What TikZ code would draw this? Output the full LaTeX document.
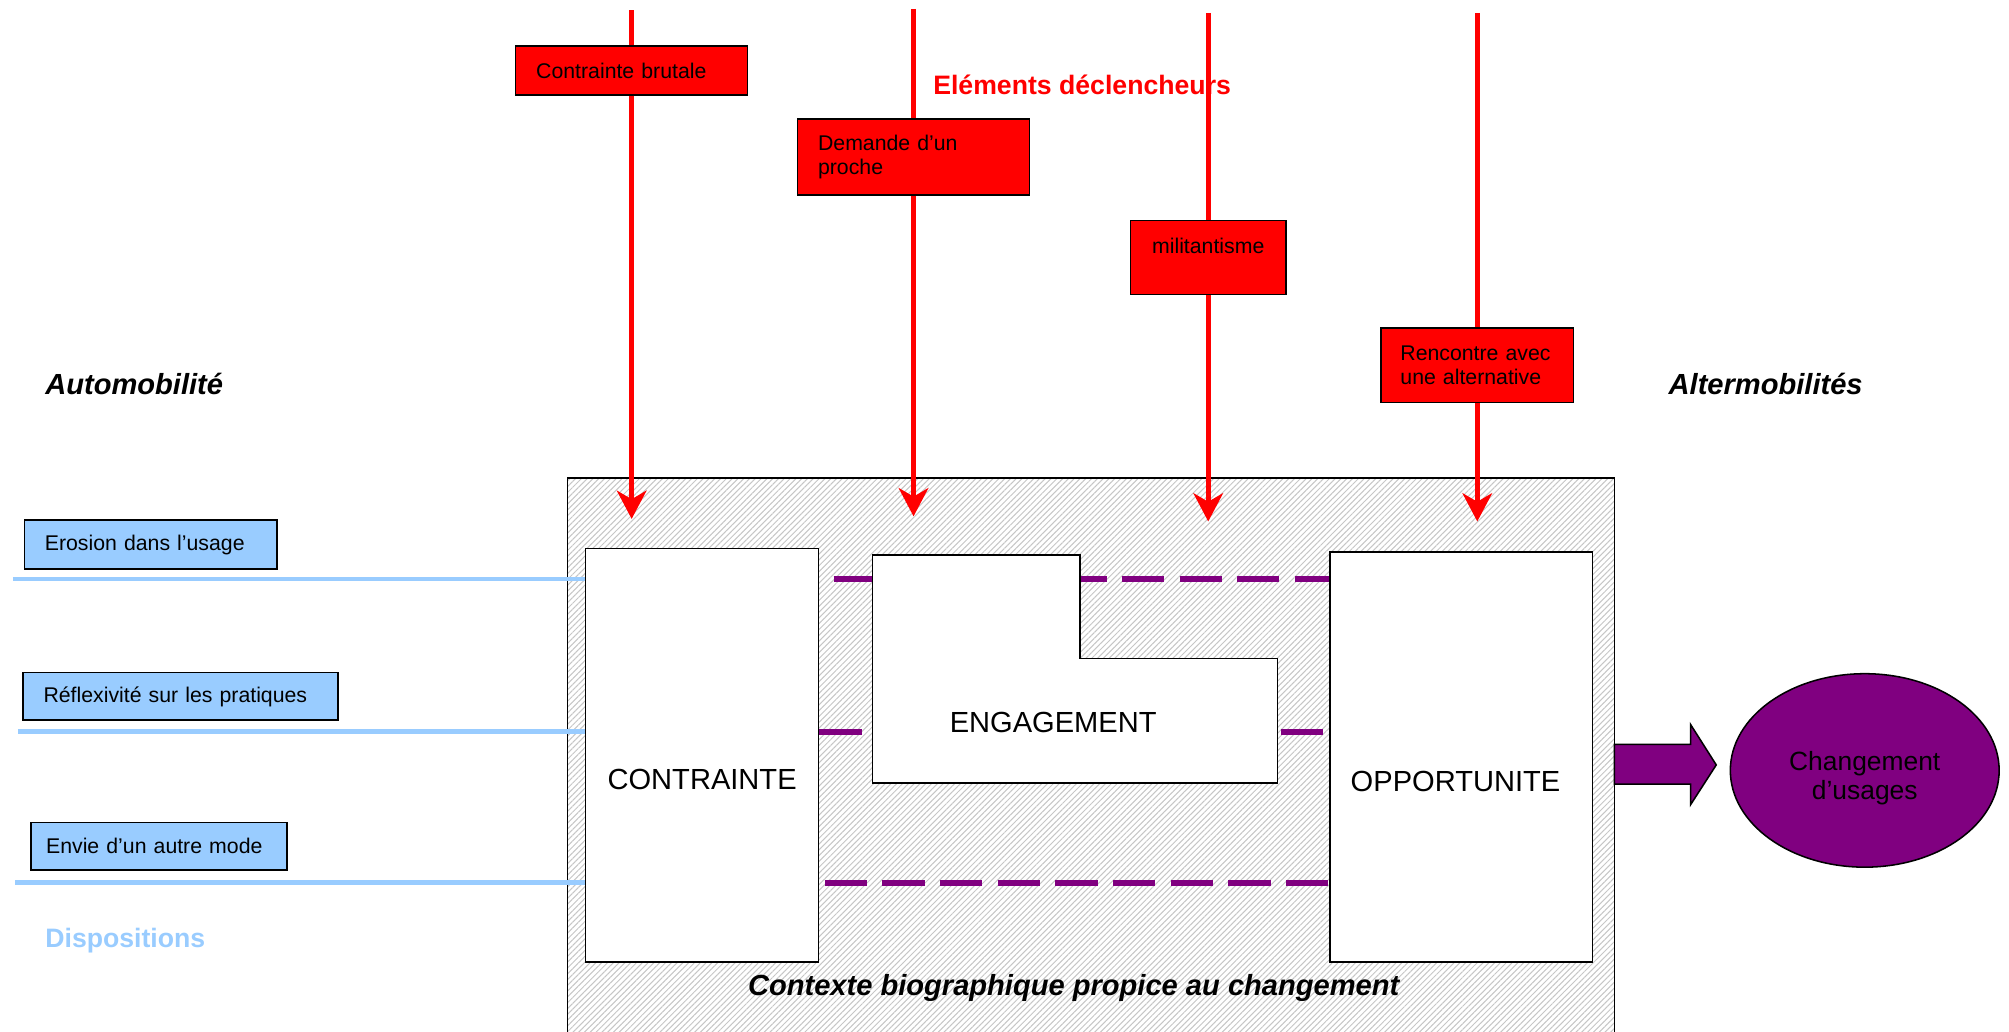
\documentclass[tikz,border=0pt]{standalone}
\usepackage{fontspec}
\setmainfont{Liberation Sans}
\usetikzlibrary{positioning}
\usetikzlibrary{shapes.geometric}
\usetikzlibrary{arrows.meta}
\usetikzlibrary{patterns.meta}

\definecolor{trigred}{HTML}{FF0000}
\definecolor{dispblue}{HTML}{99CCFF}
\definecolor{changepurple}{HTML}{800080}
\definecolor{hatchgray}{HTML}{C6C6C6}

\newcommand{\boxtextsize}{\fontsize{8.3}{9.5}\selectfont}
\newcommand{\blocktextsize}{\fontsize{11.35}{13.6}\selectfont}
\newcommand{\headtextsize}{\fontsize{10.4}{12.5}\selectfont}
\newcommand{\ovaltextsize}{\fontsize{10.3}{11.5}\selectfont}

\begin{document}
\begin{tikzpicture}[x=0.5pt, y=-0.5pt,
            redsquarednode/.style={rectangle, draw=black, line width=0.6pt, fill=trigred, font=\boxtextsize, align=left, inner xsep=8pt, inner ysep=0pt},
            bluesquarednode/.style={rectangle, draw=black, line width=0.6pt, fill=dispblue, font=\boxtextsize, align=left, inner xsep=8pt, inner ysep=0pt},
            whitesquarednode/.style={rectangle, draw=black, line width=0.6pt, fill=white, inner sep=0pt},
            hatchednode/.style={rectangle, draw=black, line width=0.6pt, inner sep=0pt, pattern={Lines[angle=45, distance=1.6pt, line width=0.4pt]}, pattern color=hatchgray},
            blocklabel/.style={font=\blocktextsize, inner sep=0pt},
            sidelabel/.style={font=\blocktextsize\bfseries\itshape, anchor=west, inner sep=0pt},
            trigline/.style={draw=trigred, line width=2pt},
            trigarrow/.style={trigline, -{Stealth[length=11pt, width=11.5pt, inset=3.3pt]}},
            displine/.style={draw=dispblue, line width=1.8pt},
            link/.style={draw=changepurple, line width=2.3pt, dash pattern=on 16.5pt off 6pt},
            ]

            \useasboundingbox (0,0) rectangle (1568,804.7);

            % contexte (runs past the bottom edge)
            \node[hatchednode, minimum width=408.5pt, minimum height=219.5pt] (ctx) at (851.5,592.5) {};

            \coordinate (d1) at (10,452);
            \coordinate (d2) at (14,571);
            \coordinate (d3) at (12,689);

            \node[whitesquarednode, minimum width=91pt, minimum height=161.5pt] (ct) at (548,589.5) {};
            \node[whitesquarednode, minimum width=102.5pt, minimum height=160pt] (op) at (1140.5,591) {};

            \draw[link, dash phase=17pt] (d1 -| ct.east) -- (d1 -| op.west);
            \draw[link] (d2 -| ct.east) -- (d2 -| op.west);
            \draw[link, dash phase=20.5pt] (d3 -| ct.east) -- (d3 -| op.west);

            \draw[line width=0.6pt, fill=white] (681,433) -- (843,433) -- (843,514) -- (997,514) -- (997,611) -- (681,611) -- cycle;
            \node[blocklabel] (eng) at (822,564) {ENGAGEMENT};
            \node[blocklabel] (ctlabel) at ([yshift=-9.25pt]ct.center) {CONTRAINTE};
            \node[blocklabel] (oplabel) at ([xshift=-2.25pt, yshift=-9.5pt]op.center) {OPPORTUNITE};

            \node[font=\blocktextsize\bfseries\itshape, inner sep=0pt] (bio) at (838,771) {Contexte biographique propice au changement};

            % dispositions
            \node[bluesquarednode, text width=82.5pt, minimum height=19pt] (er) at (117.5,425) {Erosion dans l’usage};
            \node[bluesquarednode, text width=107pt, minimum height=18.5pt] (rf) at (141,543.5) {Réflexivité sur les pratiques};
            \node[bluesquarednode, inner xsep=6pt, text width=88pt, minimum height=18.5pt] (ev) at (124,660.5) {Envie d’un autre mode};
            \node[font=\headtextsize\bfseries, text=dispblue, anchor=west, inner sep=0pt] (disp) at (35,734) {Dispositions};

            \draw[displine] (d1) -- (d1 -| ct.west);
            \draw[displine] (d2) -- (d2 -| ct.west);
            \draw[displine] (d3) -- (d3 -| ct.west);

            % elements declencheurs
            \node[font=\headtextsize\bfseries, text=trigred, anchor=west, inner sep=0pt] (elem) at (728,66) {Eléments déclencheurs};

            \node[redsquarednode, text width=74.5pt, minimum height=19pt] (cb) at (493,55) {Contrainte brutale};
            \node[redsquarednode, text width=74.5pt, minimum height=29.5pt] (dp) at (713,122.5) {Demande d’un\\proche};
            \node[redsquarednode, align=center, inner xsep=5.25pt, text width=50pt, minimum height=29pt] (mi) at (943,201) {militantisme\\\mbox{}};
            \node[redsquarednode, inner xsep=7.5pt, text width=60pt, minimum height=29pt] (ra) at (1153,285) {Rencontre avec\\une alternative};

            \coordinate (t1) at (493,8);
            \coordinate (t2) at (713,7);
            \coordinate (t3) at (943,10);
            \coordinate (t4) at (1153,10);
            \coordinate (a1) at (493,405);
            \coordinate (a2) at (713,403);
            \coordinate (a3) at (943,407);
            \coordinate (a4) at (1153,407);

            \draw[trigline] (t1) -- (cb.north);
            \draw[trigline] (t2) -- (dp.north);
            \draw[trigline] (t3) -- (mi.north);
            \draw[trigline] (t4) -- (ra.north);
            \draw[trigarrow] (cb.south) -- (a1);
            \draw[trigarrow] (dp.south) -- (a2);
            \draw[trigarrow] (mi.south) -- (a3);
            \draw[trigarrow] (ra.south) -- (a4);

            \node[sidelabel] (auto) at (35,300) {Automobilité};
            \node[sidelabel] (alter) at (1302,300) {Altermobilités};

            % changement
            \draw[line width=0.6pt, fill=changepurple] (1260,581) -- (1319.5,581) -- (1319.5,565.5) -- (1339.5,597) -- (1319.5,628) -- (1319.5,612) -- (1260,612) -- cycle;
            \node[ellipse, draw=black, line width=0.6pt, fill=changepurple, minimum width=104.9pt, minimum height=75.5pt, inner sep=0pt] (chg) at (1455.4,601.3) {};
            \node[font=\ovaltextsize, align=center, inner sep=0pt] (chglabel) at ([yshift=-3pt]chg.center) {Changement\\d’usages};
        \end{tikzpicture}
\end{document}
